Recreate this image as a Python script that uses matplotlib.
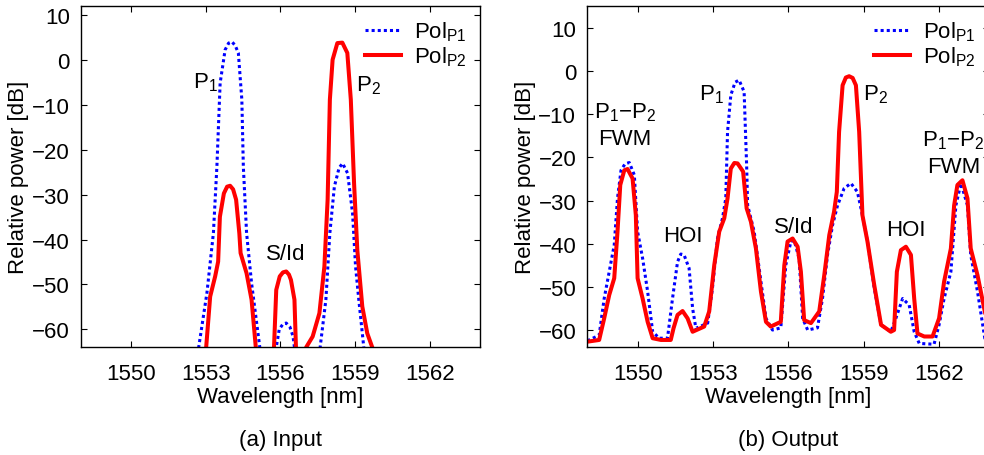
import matplotlib
matplotlib.use('Agg')
import matplotlib.pyplot as plt

plt.rcParams['font.family'] = ['Liberation Sans', 'DejaVu Sans']
plt.rcParams['mathtext.default'] = 'regular'
plt.rcParams['font.size'] = 16

# (a) input spectrum, values below the floor are clipped by the axes
in_p1_wl = [1548.0, 1552.4, 1552.72, 1553.05, 1553.31, 1553.45, 1553.58, 1553.78,
            1553.92, 1554.05, 1554.18, 1554.31, 1554.45, 1554.51, 1554.64, 1554.84,
            1555.17, 1555.4, 1555.65, 1555.83, 1555.95, 1556.1, 1556.23, 1556.38,
            1556.5, 1556.56, 1556.75, 1557.35, 1557.59, 1557.82, 1557.98, 1558.16,
            1558.35, 1558.49, 1558.69, 1558.89, 1559.01, 1559.14, 1559.34, 1559.55,
            1564.0]
in_p1_db = [-75, -75, -64, -51.9, -38.5, -23.7, -5.1, 2.3,
            3.8, 4.1, 3.3, 1.6, -8.8, -23.7, -38.5, -49.7,
            -64, -75, -75, -64, -60.0, -58.8, -58.6, -59.5,
            -61.5, -64, -75, -75, -64, -53.4, -38.5, -28.2,
            -24.0, -23.0, -25.2, -34.1, -46.0, -53.4, -64, -75,
            -75]

in_p2_wl = [1548.0, 1552.8, 1553.02, 1553.18, 1553.38, 1553.50, 1553.57, 1553.73,
            1553.86, 1553.98, 1554.1, 1554.22, 1554.35, 1554.40, 1554.64, 1554.84,
            1555.01, 1555.2, 1555.55, 1555.74, 1555.83, 1555.97, 1556.1, 1556.23,
            1556.34, 1556.42, 1556.56, 1556.62, 1556.8, 1556.85, 1557.03, 1557.29,
            1557.56, 1557.76, 1557.89, 1557.98, 1558.09, 1558.28, 1558.48, 1558.68,
            1558.82, 1558.95, 1559.08, 1559.28, 1559.48, 1559.68, 1559.9, 1564.0]
in_p2_db = [-75, -75, -64, -52.7, -48.2, -44.9, -34.9, -29.7,
            -28.2, -28.0, -28.8, -31.1, -38.6, -43.0, -47.5, -53.4,
            -64, -75, -75, -64, -51.2, -48.2, -47.3, -47.1,
            -47.8, -49.0, -53.4, -64, -75, -75, -64, -61.6,
            -56.4, -46.0, -31.1, -8.8, 0.1, 3.8, 3.9, 1.6,
            -8.8, -27.4, -42.3, -54.9, -60.9, -64, -75, -75]

# (b) output spectrum
out_p1_wl = [1548.0, 1548.47, 1548.67, 1548.87, 1549.07, 1549.20, 1549.34, 1549.5,
             1549.67, 1549.87, 1550.00, 1550.20, 1550.40, 1550.60, 1550.86, 1551.19,
             1551.39, 1551.59, 1551.72, 1551.85, 1552.05, 1552.19, 1552.32, 1552.79,
             1552.98, 1553.18, 1553.38, 1553.51, 1553.58, 1553.71, 1553.88, 1554.04,
             1554.24, 1554.34, 1554.38, 1554.64, 1554.91, 1555.11, 1555.37, 1555.70,
             1555.90, 1556.10, 1556.23, 1556.43, 1556.57, 1556.77, 1557.16, 1557.36,
             1557.56, 1557.76, 1557.96, 1558.22, 1558.49, 1558.75, 1558.95, 1559.15,
             1559.42, 1559.69, 1560.08, 1560.28, 1560.55, 1560.81, 1561.01, 1561.21,
             1561.80, 1562.00, 1562.20, 1562.47, 1562.67, 1562.87, 1563.13, 1563.26,
             1563.53, 1563.82, 1564.0]
out_p1_db = [-62.5, -61.2, -52.7, -46.5, -40.3, -29.5, -23.0, -21.5,
             -21.2, -24.1, -37.2, -43.4, -51.1, -60.4, -61.9, -61.9,
             -52.7, -44.2, -42.4, -42.6, -45.7, -55.0, -59.6, -58.4,
             -50.3, -38.8, -34.1, -29.5, -14.1, -5.6, -2.6, -2.1,
             -4.8, -21.8, -31.1, -37.2, -48.8, -57.3, -60.0, -59.5,
             -44.9, -39.5, -39.2, -43.4, -57.3, -60.0, -59.5, -52.7,
             -42.6, -35.7, -31.1, -27.2, -26.0, -28.0, -33.4, -39.5,
             -50.3, -58.8, -60.4, -57.3, -52.7, -54.2, -60.4, -63.1,
             -63.3, -58.8, -52.7, -46.5, -31.1, -26.0, -31.1, -42.6,
             -51.1, -61.9, -63.0]

out_p2_wl = [1548.0, 1548.47, 1548.67, 1548.87, 1549.07, 1549.20, 1549.31, 1549.47,
             1549.60, 1549.80, 1549.93, 1550.00, 1550.20, 1550.40, 1550.60, 1550.93,
             1551.32, 1551.43, 1551.59, 1551.79, 1551.99, 1552.19, 1552.65, 1552.85,
             1553.05, 1553.25, 1553.45, 1553.58, 1553.71, 1553.85, 1553.98, 1554.20,
             1554.34, 1554.51, 1554.71, 1554.91, 1555.11, 1555.30, 1555.70, 1555.84,
             1555.97, 1556.17, 1556.37, 1556.50, 1556.63, 1556.90, 1557.23, 1557.43,
             1557.63, 1557.82, 1557.93, 1558.02, 1558.16, 1558.29, 1558.42, 1558.56,
             1558.69, 1558.82, 1558.95, 1559.15, 1559.42, 1559.69, 1560.08, 1560.21,
             1560.32, 1560.48, 1560.68, 1560.88, 1561.01, 1561.14, 1561.41, 1561.74,
             1562.00, 1562.20, 1562.47, 1562.60, 1562.73, 1562.93, 1563.13, 1563.26,
             1563.53, 1563.82, 1564.0]
out_p2_db = [-62.7, -62.3, -57.3, -51.9, -48.0, -37.2, -26.4, -23.0,
             -22.7, -24.9, -33.4, -48.0, -52.7, -58.1, -61.9, -62.3,
             -62.3, -59.6, -56.5, -55.6, -57.3, -60.4, -59.2, -55.7,
             -45.0, -37.2, -34.1, -29.5, -22.6, -21.3, -21.4, -23.3,
             -31.8, -34.9, -41.1, -51.1, -58.1, -59.2, -58.1, -45.0,
             -39.5, -38.8, -40.7, -46.5, -57.7, -58.4, -55.7, -47.3,
             -38.0, -32.6, -28.0, -14.1, -3.3, -1.5, -1.2, -1.6,
             -3.3, -14.1, -33.4, -39.5, -49.6, -58.8, -60.4, -60.0,
             -46.5, -41.5, -40.7, -42.6, -52.7, -60.8, -61.5, -61.5,
             -57.3, -48.8, -41.1, -31.1, -26.4, -25.3, -29.5, -41.1,
             -47.3, -55.7, -60.0]

xticks = [1550, 1553, 1556, 1559, 1562]
yticks = [-60, -50, -40, -30, -20, -10, 0, 10]

in_labels = [('P$_1$', 1552.98, -4.9), ('P$_2$', 1559.53, -5.5), ('S/Id', 1556.2, -43.2)]
out_labels = [('P$_1$\u2212P$_2$\nFWM', 1549.5, -12.5), ('HOI', 1551.79, -38.0),
              ('P$_1$', 1552.94, -5.2), ('S/Id', 1556.2, -36.1), ('P$_2$', 1559.45, -5.2),
              ('HOI', 1560.68, -36.8), ('P$_1$\u2212P$_2$\nFWM', 1562.57, -19.0)]


def draw_panel(ax, p1, p2, ylim, labels, caption):
    ax.plot(p1[0], p1[1], color='blue', lw=2.2, linestyle=(0, (1, 1.0)),
            label='Pol$_{P1}$')
    ax.plot(p2[0], p2[1], color='red', lw=2.9, solid_joinstyle='round',
            label='Pol$_{P2}$')
    ax.set_xlim(1548, 1564)
    ax.set_ylim(*ylim)
    ax.set_xticks(xticks)
    ax.set_yticks(yticks)
    ax.tick_params(direction='in', top=True, right=True, length=4, width=0.8,
                   labelsize=16, pad=8)
    ax.tick_params(axis='x', pad=11.5)
    for s in ax.spines.values():
        s.set_linewidth(1.0)
    ax.set_xlabel('Wavelength [nm]', fontsize=16, labelpad=1)
    ax.set_ylabel('Relative power [dB]', fontsize=16, labelpad=2)
    for txt, x, y in labels:
        ax.text(x, y, txt, ha='center', va='center', fontsize=16, linespacing=1.3)
    ax.legend(loc='upper right', frameon=False, fontsize=16, handlelength=1.6,
              handletextpad=0.6, borderaxespad=0.2, labelspacing=0.05)
    pos = ax.get_position()
    ax.figure.text((pos.x0 + pos.x1) / 2, 0.035, caption, ha='center', va='center',
                   fontsize=16)


fig = plt.figure(figsize=(9.84, 4.56), dpi=100)
ax1 = fig.add_axes([0.0823, 0.2362, 0.4055, 0.7478])
ax2 = fig.add_axes([0.5969, 0.2362, 0.4085, 0.7478])

draw_panel(ax1, (in_p1_wl, in_p1_db), (in_p2_wl, in_p2_db), (-64, 12), in_labels, '(a) Input')
draw_panel(ax2, (out_p1_wl, out_p1_db), (out_p2_wl, out_p2_db), (-64, 15), out_labels, '(b) Output')

fig.savefig('out.png', dpi=100)
